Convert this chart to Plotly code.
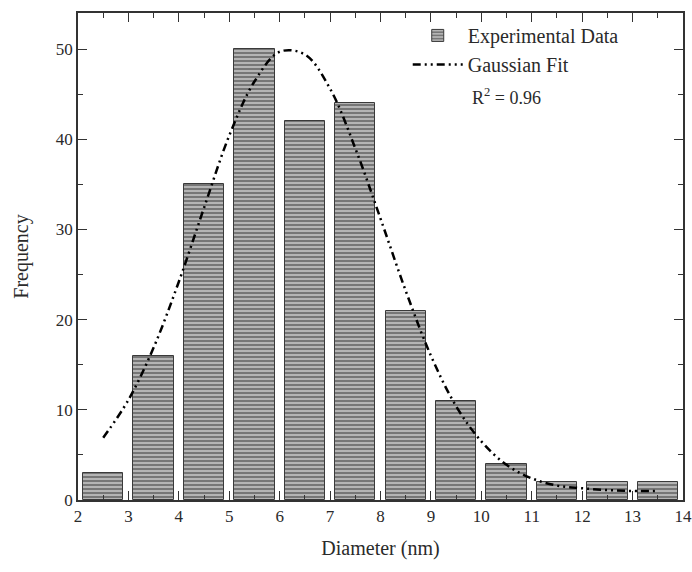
import plotly.graph_objects as go

# Histogram data (bin centres, nm) and counts
bin_centers = [2.5, 3.5, 4.5, 5.5, 6.5, 7.5, 8.5, 9.5, 10.5, 11.5, 12.5, 13.5]
frequency = [3, 16, 35, 50, 42, 44, 21, 11, 4, 2, 2, 2]

# Gaussian fit curve
fit_x = [2.5, 3.0, 3.5, 4.0, 4.5, 5.0, 5.5, 6.0, 6.5, 7.0, 7.5, 8.0, 8.5,
         9.0, 9.5, 10.0, 10.5, 11.0, 11.5, 12.0, 12.5, 13.0, 13.5]
fit_y = [6.9, 11.1, 16.9, 24.2, 32.4, 40.4, 46.4, 49.7, 49.4, 45.6, 39.0, 31.2, 23.2,
         16.0, 10.4, 6.5, 3.9, 2.4, 1.6, 1.3, 1.1, 1.0, 1.0]

x_ticks = list(range(2, 15))
y_ticks = [0, 10, 20, 30, 40, 50]

FONT = "Liberation Serif"
AX = "#333333"
TXT = "#2a2a2a"

fig = go.Figure()
fig.add_trace(go.Bar(
    x=bin_centers, y=frequency, width=0.8,
    name="Experimental Data",
    marker=dict(
        color="#808080",
        line=dict(color="#3a3a3a", width=1),
        pattern=dict(shape="-", bgcolor="#767676", fgcolor="#c4c4c4",
                     size=4, solidity=0.4, fillmode="replace"),
    ),
))
fig.add_trace(go.Scatter(
    x=fit_x, y=fit_y, mode="lines", name="Gaussian Fit",
    line=dict(color="black", width=2.5, dash="8px,4px,2px,4px,2px,4px", shape="spline"),
))

axis_common = dict(
    showline=True, linecolor=AX, linewidth=1.5, mirror="ticks",
    ticks="inside", ticklen=9, tickwidth=1.3, tickcolor=AX,
    showgrid=False, zeroline=False, automargin=False,
    tickfont=dict(family=FONT, size=17, color=TXT),
)
fig.update_xaxes(
    range=[2, 14], tickvals=x_ticks,
    minor=dict(dtick=0.5, ticklen=5, tickcolor=AX, ticks="inside"),
    title=dict(text="Diameter (nm)", font=dict(family=FONT, size=20, color=TXT), standoff=16),
    **axis_common,
)
fig.update_yaxes(
    range=[0, 54], tickvals=y_ticks,
    minor=dict(dtick=5, ticklen=5, tickcolor=AX, ticks="inside"),
    title=dict(text="Frequency", font=dict(family=FONT, size=20, color=TXT), standoff=22),
    **axis_common,
)

fig.add_annotation(
    x=0.648, y=0.828, xref="paper", yref="paper", xanchor="left", yanchor="middle",
    text="R<sup>2</sup> = 0.96", showarrow=False,
    font=dict(family=FONT, size=18, color=TXT),
)

fig.update_layout(
    width=692, height=572,
    margin=dict(l=78, r=9, t=13, b=72),
    plot_bgcolor="white", paper_bgcolor="white",
    bargap=0,
    legend=dict(x=0.545, y=0.994, xanchor="left", yanchor="top",
                bgcolor="rgba(0,0,0,0)", font=dict(family=FONT, size=20, color=TXT),
                tracegroupgap=0, itemwidth=50),
    showlegend=True,
)

fig.write_html("out.html", config={"displayModeBar": False},
               post_script="document.body.style.margin='0';document.body.style.overflow='hidden';")
